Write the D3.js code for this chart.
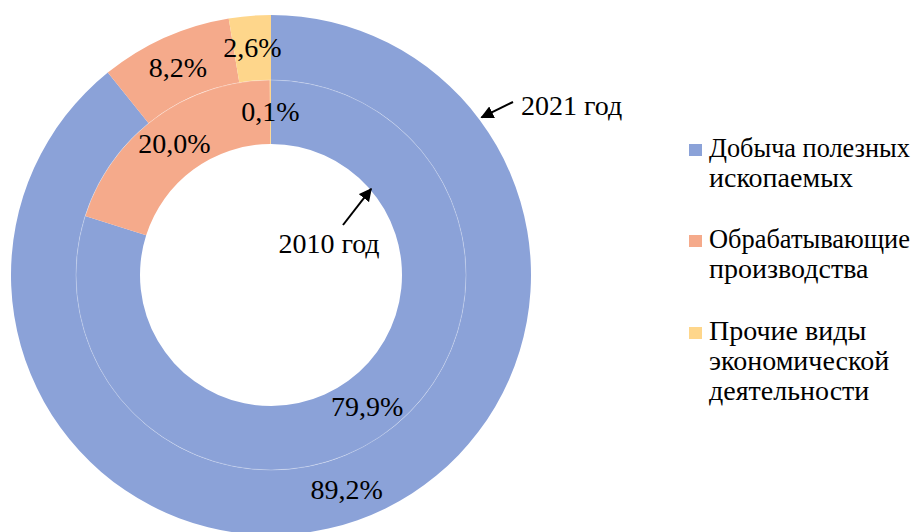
<!DOCTYPE html>
<html><head><meta charset="utf-8"><script src="https://cdn.jsdelivr.net/npm/d3@7"></script></head>
<body style="margin:0">
<svg id="chart" width="912" height="532"></svg>
<script>
// Структура по видам экономической деятельности, %
const categories = ["Добыча полезных ископаемых", "Обрабатывающие производства", "Прочие виды экономической деятельности"];
const legendLines = [["Добыча полезных", "ископаемых"], ["Обрабатывающие", "производства"], ["Прочие виды", "экономической", "деятельности"]];
const colors = ["#8ba2d8", "#f5aa8b", "#fed68b"];
const values2010 = [79.9, 20.0, 0.1];   // внутреннее кольцо
const values2021 = [89.2, 8.2, 2.6];    // внешнее кольцо
const ringLabels = ["2010 год", "2021 год"];

const svg = d3.select("#chart");
const W = 912;
const cx = 271, cy = 275;
const rHole = 131, rMid = 195, rOuter = 260;
const fontSize = 28;
const serif = '"Liberation Serif"';

const pie = d3.pie().sort(null).value(d => d);
const fmt = v => d3.format(".1f")(v).replace(".", ",") + "%";

const rings = [
  { values: values2010, inner: rHole, outer: rMid },
  { values: values2021, inner: rMid, outer: rOuter }
];

// сектора колец
const g = svg.append("g").attr("transform", `translate(${cx},${cy})`);
const labelData = [];
rings.forEach(ring => {
  const arc = d3.arc().innerRadius(ring.inner).outerRadius(ring.outer);
  const arcs = pie(ring.values);
  g.append("g").selectAll("path").data(arcs).join("path")
    .attr("d", arc)
    .attr("fill", (d, i) => colors[i]);
  arcs.forEach(a => {
    const [x, y] = arc.centroid(a);
    labelData.push({ x: cx + x, y: cy + y, text: fmt(a.data) });
  });
});

// тонкая граница между кольцами
g.append("circle").attr("r", rMid)
  .attr("fill", "none").attr("stroke", "#ffffff")
  .attr("stroke-opacity", 0.45).attr("stroke-width", 0.6);

// стрелки к кольцам
svg.append("defs").append("marker")
  .attr("id", "arrowHead")
  .attr("viewBox", "0 0 10 10")
  .attr("refX", 9).attr("refY", 5)
  .attr("markerWidth", 6.5).attr("markerHeight", 6.5)
  .attr("markerUnits", "strokeWidth")
  .attr("orient", "auto")
  .append("path").attr("d", "M0,0 L10,5 L0,10 z").attr("fill", "#000");

function polar(r, deg) {
  const a = deg * Math.PI / 180;
  return [cx + r * Math.sin(a), cy - r * Math.cos(a)];
}

const notes = [
  { text: ringLabels[0], tipR: rHole + 1, tipDeg: 49.3, from: [cx + 72, cy - 50], tx: cx + 58, ty: cy - 22, anchor: "middle" },
  { text: ringLabels[1], tipR: rOuter + 3, tipDeg: 53.2, from: [cx + 242, cy - 173], tx: cx + 250, ty: cy - 160, anchor: "start" }
];
svg.selectAll("line.note").data(notes).join("line")
  .attr("class", "note")
  .attr("x1", d => d.from[0]).attr("y1", d => d.from[1])
  .attr("x2", d => polar(d.tipR, d.tipDeg)[0])
  .attr("y2", d => polar(d.tipR, d.tipDeg)[1])
  .attr("stroke", "#000").attr("stroke-width", 2)
  .attr("marker-end", "url(#arrowHead)");

// легенда: квадраты
const legendX = 689, textX = 709;
const blockTop = [157, 248, 340];
const lineH = 30;
svg.selectAll("rect.key").data(categories).join("rect")
  .attr("class", "key")
  .attr("x", legendX).attr("y", (d, i) => blockTop[i] - 13)
  .attr("width", 13).attr("height", 12)
  .attr("fill", (d, i) => colors[i]);

// все надписи
const texts = [];
labelData.forEach(d => texts.push({ x: d.x, y: d.y + fontSize * 0.33, text: d.text, anchor: "middle" }));
notes.forEach(n => texts.push({ x: n.tx, y: n.ty, text: n.text, anchor: n.anchor }));
legendLines.forEach((lines, i) => lines.forEach((line, k) =>
  texts.push({ x: textX, y: blockTop[i] + k * lineH, text: line, anchor: "start", legend: true })));

svg.selectAll("text").data(texts).join("text")
  .attr("x", d => d.x).attr("y", d => d.y)
  .attr("text-anchor", d => d.anchor)
  .attr("font-size", fontSize)
  .attr("fill", "#000")
  .style("font-family", serif)
  .text(d => d.text)
  .each(function(d) {
    // строки легенды не выходят за правый край
    if (!d.legend) return;
    const w = this.getComputedTextLength();
    const room = W - textX - 2;
    if (w > room) d3.select(this).attr("font-size", fontSize * room / w);
  });
</script></body></html>
